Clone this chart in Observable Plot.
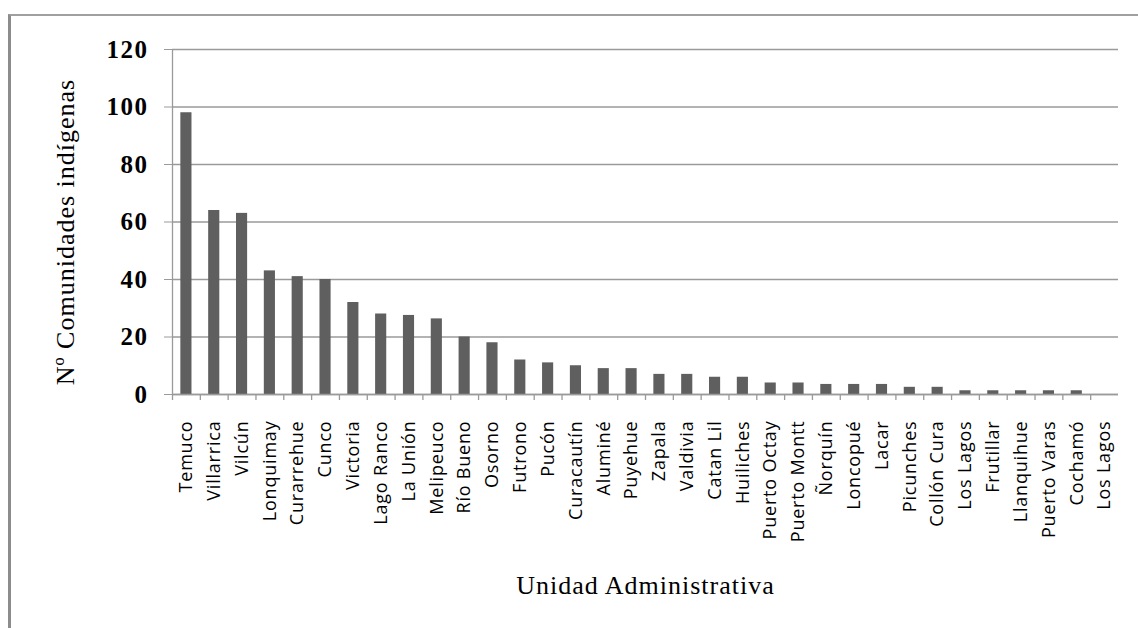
<!DOCTYPE html>
<html><head><meta charset="utf-8">
<script src="https://cdn.jsdelivr.net/npm/d3@7"></script>
<script src="https://cdn.jsdelivr.net/npm/@observablehq/plot@0.6"></script>
<style>
html,body{margin:0;padding:0;background:#fff;overflow:hidden}
#wrap{position:relative;width:1138px;height:628px}
#border{position:absolute;left:8px;top:14px;width:1200px;height:700px;border-left:3px solid #8c8c8c;border-top:2px solid #a0a0a0}
#chart{position:absolute;left:0;top:0}
</style></head><body>
<div id="wrap"><div id="border"></div><div id="chart"></div></div>
<script>
const names = ["Temuco","Villarrica","Vilcún","Lonquimay","Curarrehue","Cunco","Victoria","Lago Ranco","La Unión","Melipeuco","Río Bueno","Osorno","Futrono","Pucón","Curacautín","Aluminé","Puyehue","Zapala","Valdivia","Catan Lil","Huiliches","Puerto Octay","Puerto Montt","Ñorquín","Loncopué","Lacar","Picunches","Collón Cura","Los Lagos","Frutillar","Llanquihue","Puerto Varas","Cochamó","Los Lagos"];
const values = [98,64,63,43,41,40,32,28,27.5,26.3,20,18,12,11,10,9,9,7,7,6,6,4,4,3.5,3.5,3.5,2.5,2.5,1.3,1.3,1.3,1.3,1.3,0];
const yTicks = [0,20,40,60,80,100,120];
const yTitle = "Nº Comunidades indígenas";
const xTitle = "Unidad Administrativa";

const keys = names.map((_, i) => i);
const data = keys.map(i => ({key: i, name: names[i], value: values[i]}));

const W = 1138, H = 628, mL = 172, mR = 20, mT = 49, mB = 234;
const step = (W - mL - mR) / keys.length;
const gray = "#9a9a9a";

const plot = Plot.plot({
  width: W, height: H, marginLeft: mL, marginRight: mR, marginTop: mT, marginBottom: mB,
  style: {background: "transparent", color: "#000"},
  x: {domain: keys, paddingInner: 0.6, paddingOuter: 0.3, round: false, axis: null},
  y: {domain: [0, 120], axis: null},
  marks: [
    Plot.gridY(yTicks, {stroke: gray, strokeOpacity: 1, strokeWidth: 1.3}),
    Plot.ruleX([keys[0]], {dx: -step / 2, stroke: gray, strokeWidth: 1.3}),
    Plot.ruleX(keys, {dx: -step / 2, stroke: gray, strokeWidth: 1.3, insetTop: H - mT - mB, insetBottom: -6}),
    Plot.axisY({ticks: yTicks, tickSize: 8, tickPadding: 16, stroke: gray, fontFamily: "Liberation Serif", fontWeight: "bold", fontSize: 25, label: null}),
    Plot.barY(data, {x: "key", y: "value", fill: "#5f5f5f"}),
    Plot.ruleY([0], {stroke: gray, strokeWidth: 1.3}),
    Plot.axisX({tickSize: 0, tickRotate: -90, tickPadding: 26, fontSize: 18, fontFamily: "Open Sans", tickFormat: i => names[i], label: null}),
    Plot.text([yTitle], {text: d => d, frameAnchor: "left", dx: -107, dy: 10, rotate: -90, fontFamily: "Liberation Serif", fontSize: 26, textAnchor: "middle"}),
    Plot.text([xTitle], {text: d => d, frameAnchor: "bottom", dy: 199, fontFamily: "Liberation Serif", fontSize: 26, lineAnchor: "bottom"})
  ]
});
const svg = d3.select(plot);
svg.selectAll("g[aria-label='y-axis tick label'] text").style("letter-spacing", "1.5px");
svg.selectAll("g[aria-label='x-axis tick label'] text").style("letter-spacing", "0.8px");
svg.selectAll("g[aria-label='text'] text").style("letter-spacing", "1px");
document.getElementById("chart").appendChild(plot);
</script>
</body></html>
